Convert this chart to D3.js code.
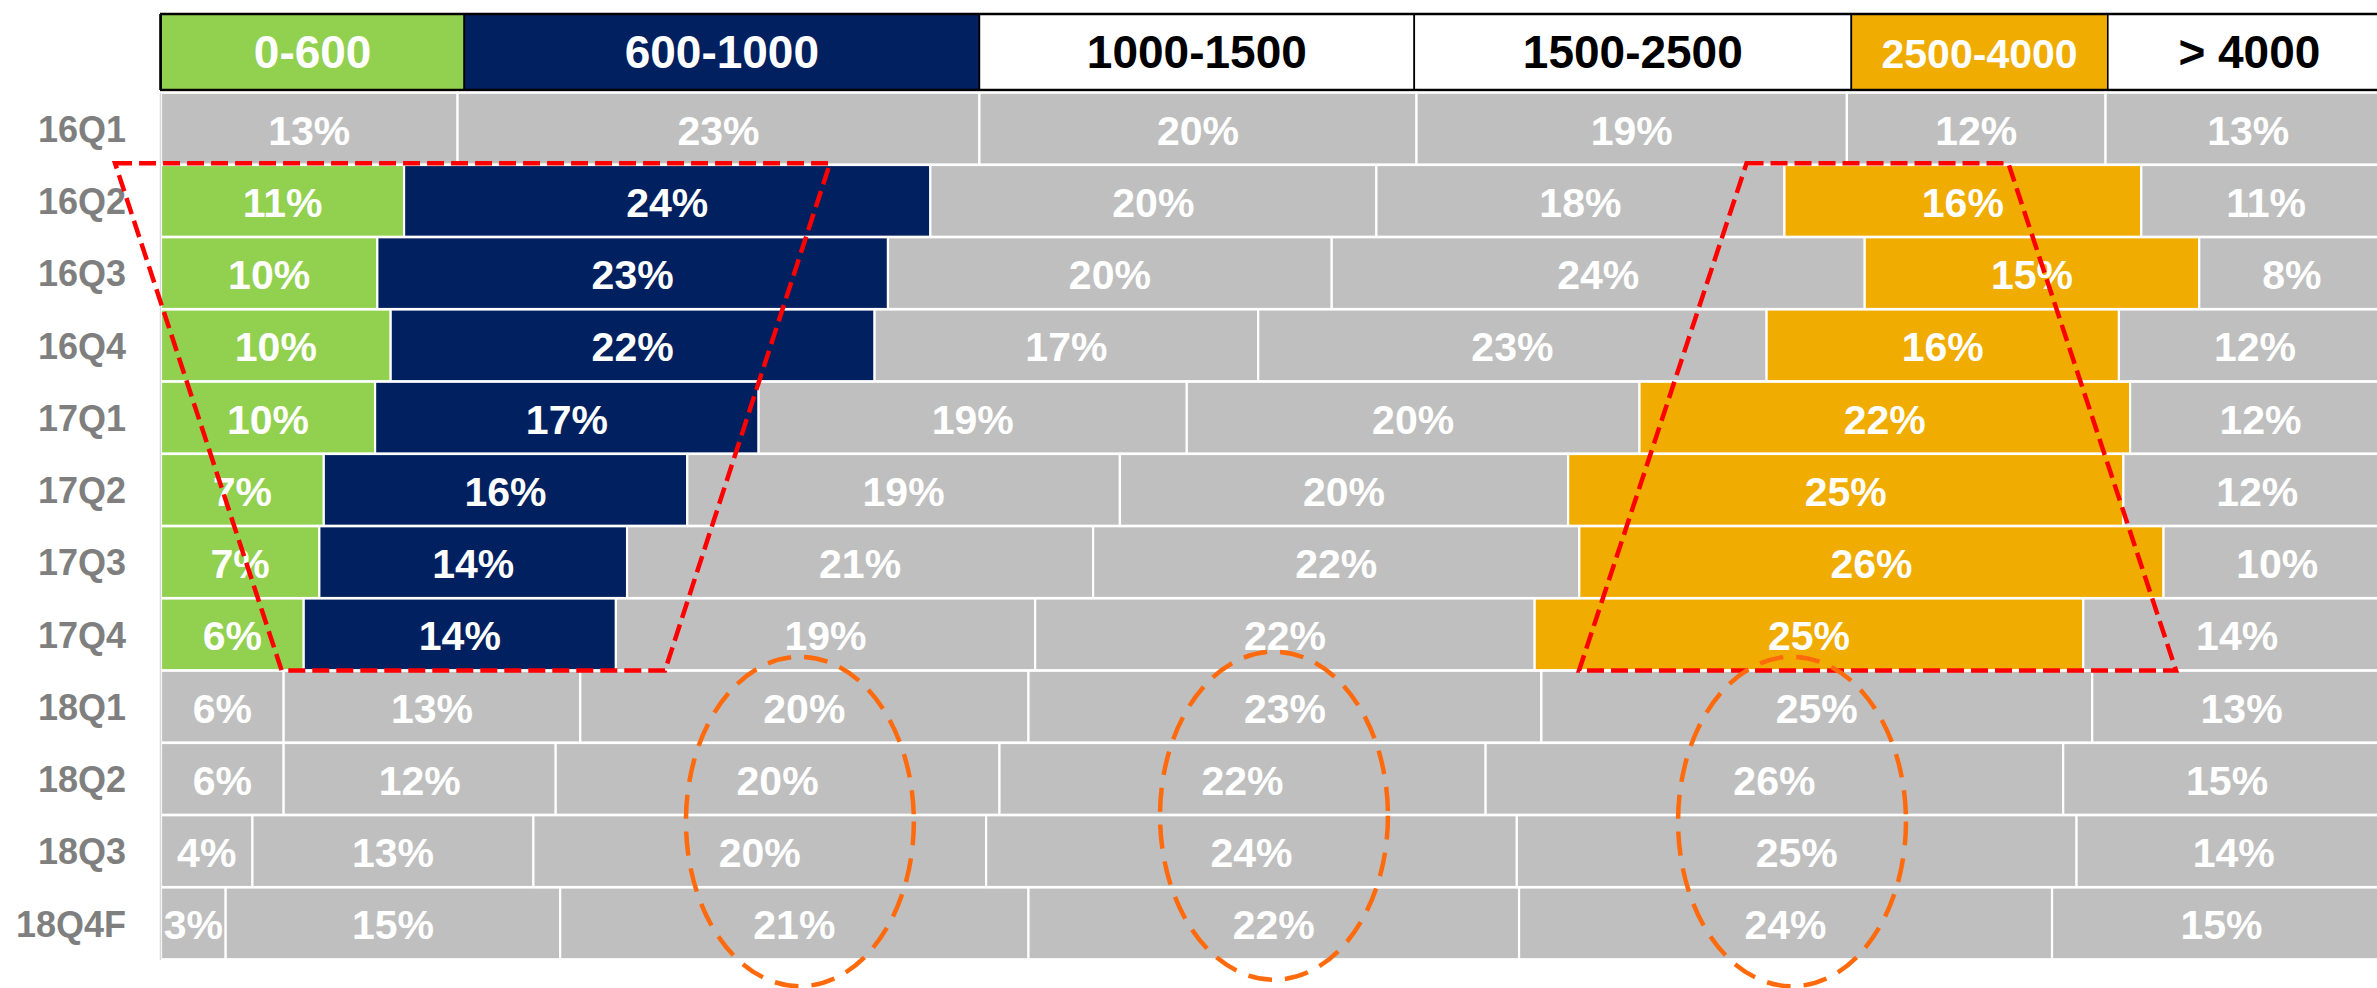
<!DOCTYPE html>
<html>
<head>
<meta charset="utf-8">
<script src="https://cdn.jsdelivr.net/npm/d3@7"></script>
<style>
  html, body { margin: 0; padding: 0; background: #fff; }
  svg { display: block; font-family: "Liberation Sans", Arial, sans-serif; }
</style>
</head>
<body>
<svg id="chart" width="2377" height="988"></svg>
<script>
// ---------- data ----------
const quarters = ["16Q1","16Q2","16Q3","16Q4","17Q1","17Q2","17Q3","17Q4","18Q1","18Q2","18Q3","18Q4F"];
const priceBands = ["0-600","600-1000","1000-1500","1500-2500","2500-4000","> 4000"];

// share of each price band (%) per quarter
const share0_600      = [13.3, 10.9,  9.7, 10.3,  9.6,  7.3,  7.1,  6.4,  5.5,  5.5,  4.1,  2.9];
const share600_1000   = [23.4, 23.6, 22.9, 21.7, 17.2, 16.3, 13.8, 14.0, 13.3, 12.2, 12.6, 15.0];
const share1000_1500  = [19.6, 20.0, 19.9, 17.2, 19.2, 19.4, 20.9, 18.8, 20.1, 19.9, 20.3, 21.0];
const share1500_2500  = [19.3, 18.3, 23.9, 22.8, 20.3, 20.1, 21.8, 22.4, 23.0, 21.8, 23.8, 22.0];
const share2500_4000  = [11.6, 16.0, 15.0, 15.8, 22.0, 24.9, 26.2, 24.6, 24.7, 25.9, 25.1, 23.9];
const shareOver4000   = [12.8, 11.2,  8.3, 12.2, 11.7, 12.0, 10.2, 13.8, 13.4, 14.7, 14.1, 15.2];

// header legend spans (%), one per price band
const headerSpans = [13.6, 23.1, 19.5, 19.6, 11.5, 12.7];

// quarters in which the low / mid-high bands are highlighted
const highlightQuarters = ["16Q2","16Q3","16Q4","17Q1","17Q2","17Q3","17Q4"];

// ---------- styles ----------
const GRAY = "#BFBFBF";
const bandFill = ["#92D050", "#002060", GRAY, GRAY, "#F0AC00", GRAY];
const headerFill = ["#92D050", "#002060", "#FFFFFF", "#FFFFFF", "#F0AC00", "#FFFFFF"];
const headerText = ["#FFFFFF", "#FFFFFF", "#000000", "#000000", "#FFFFFF", "#000000"];
const headerSize = [46, 46, 46, 46, 41, 46];

const seriesArrays = [share0_600, share600_1000, share1000_1500, share1500_2500, share2500_4000, shareOver4000];
const keys = priceBands;
const table = quarters.map((q, i) => {
  const row = { quarter: q };
  keys.forEach((k, j) => row[k] = seriesArrays[j][i]);
  return row;
});

const svg = d3.select("#chart");

const x = d3.scaleLinear().domain([0, 100]).range([161, 2391]);
const y = d3.scaleBand().domain(quarters).range([92.5, 959.5]).padding(0);
const rowPos = d3.scaleLinear().domain([0, quarters.length]).range([92.5, 959.5]);

const stacked = d3.stack().keys(keys)(table);

// ---------- header legend ----------
const headerTop = 14, headerBottom = 90;
let acc = 0;
const headerCells = priceBands.map((b, i) => {
  const c = { label: b, x0: acc, x1: acc + headerSpans[i], i };
  acc += headerSpans[i];
  return c;
});
const hg = svg.append("g");
hg.selectAll("rect").data(headerCells).join("rect")
  .attr("x", d => x(d.x0)).attr("y", headerTop)
  .attr("width", d => x(d.x1) - x(d.x0)).attr("height", headerBottom - headerTop)
  .attr("fill", d => headerFill[d.i])
  .attr("stroke", "#000").attr("stroke-width", 1.6);
hg.selectAll("text").data(headerCells).join("text")
  .attr("x", d => (x(d.x0) + x(d.x1)) / 2)
  .attr("y", 68)
  .attr("text-anchor", "middle")
  .attr("font-weight", "bold")
  .attr("font-size", d => headerSize[d.i])
  .attr("fill", d => headerText[d.i])
  .text(d => d.label);
// heavier top / bottom / left borders
hg.append("line").attr("x1", x(0) - 1).attr("x2", 2377).attr("y1", headerTop).attr("y2", headerTop)
  .attr("stroke", "#000").attr("stroke-width", 2.6);
hg.append("line").attr("x1", x(0) - 1).attr("x2", 2377).attr("y1", headerBottom).attr("y2", headerBottom)
  .attr("stroke", "#000").attr("stroke-width", 2.6);
hg.append("line").attr("x1", x(0) - 0.5).attr("x2", x(0) - 0.5).attr("y1", headerTop).attr("y2", headerBottom)
  .attr("stroke", "#000").attr("stroke-width", 2.6);

// ---------- bars ----------
const colorFor = (bandIdx, q) =>
  highlightQuarters.includes(q) ? bandFill[bandIdx] : GRAY;

const bg = svg.append("g");
stacked.forEach((series, k) => {
  const g = bg.append("g");
  g.selectAll("rect").data(series).join("rect")
    .attr("x", d => x(d[0]))
    .attr("y", d => y(d.data.quarter) + 0.25)
    .attr("width", d => x(d[1]) - x(d[0]))
    .attr("height", y.bandwidth() - 0.5)
    .attr("fill", d => colorFor(k, d.data.quarter))
    .attr("stroke", "#FFFFFF")
    .attr("stroke-width", 2.2);
});

// value labels
stacked.forEach((series, k) => {
  bg.append("g").selectAll("text").data(series).join("text")
    .attr("x", d => (x(d[0]) + x(d[1])) / 2)
    .attr("y", d => y(d.data.quarter) + y.bandwidth() / 2 + 16)
    .attr("text-anchor", "middle")
    .attr("font-weight", "bold")
    .attr("font-size", 41)
    .attr("fill", "#FFFFFF")
    .text(d => Math.round(d[1] - d[0]) + "%");
});

// category axis
const axis = svg.append("g").attr("transform", `translate(${x(0) - 1},0)`)
  .call(d3.axisLeft(y).tickSize(0).tickPadding(34));
axis.select(".domain").attr("stroke", "#D9D9D9").attr("stroke-width", 1.5);
axis.selectAll("text")
  .attr("font-family", "Liberation Sans, Arial, sans-serif")
  .attr("font-weight", "bold")
  .attr("font-size", 36)
  .attr("fill", "#7F7F7F")
  .attr("dy", "0.37em");

// ---------- annotations ----------
const line = d3.line().x(d => x(d[0])).y(d => rowPos(d[1]));
const trapezoids = [
  [[-2.06, 0.98], [30.0, 0.98], [22.6, 8], [5.41, 8]],
  [[71.1, 0.98], [82.84, 0.98], [90.36, 8], [63.59, 8]]
];
svg.append("g").selectAll("path").data(trapezoids).join("path")
  .attr("d", d => line(d) + "Z")
  .attr("fill", "none")
  .attr("stroke", "#FF0000")
  .attr("stroke-width", 4.5)
  .attr("stroke-dasharray", "17,7");

// dashed ellipses: [centre %, top row pos, bottom row pos, half width %]
const ellipses = [
  [28.65, 7.81, 12.37, 5.11],
  [49.91, 7.74, 12.28, 5.11],
  [73.14, 7.81, 12.37, 5.11]
];
svg.append("g").selectAll("ellipse").data(ellipses).join("ellipse")
  .attr("cx", d => x(d[0]))
  .attr("cy", d => (rowPos(d[1]) + rowPos(d[2])) / 2)
  .attr("rx", d => x(d[0] + d[3]) - x(d[0]))
  .attr("ry", d => (rowPos(d[2]) - rowPos(d[1])) / 2)
  .attr("fill", "none")
  .attr("stroke", "#FF6A0D")
  .attr("stroke-width", 4.5)
  .attr("stroke-dasharray", "24,13");
</script>
</body>
</html>
